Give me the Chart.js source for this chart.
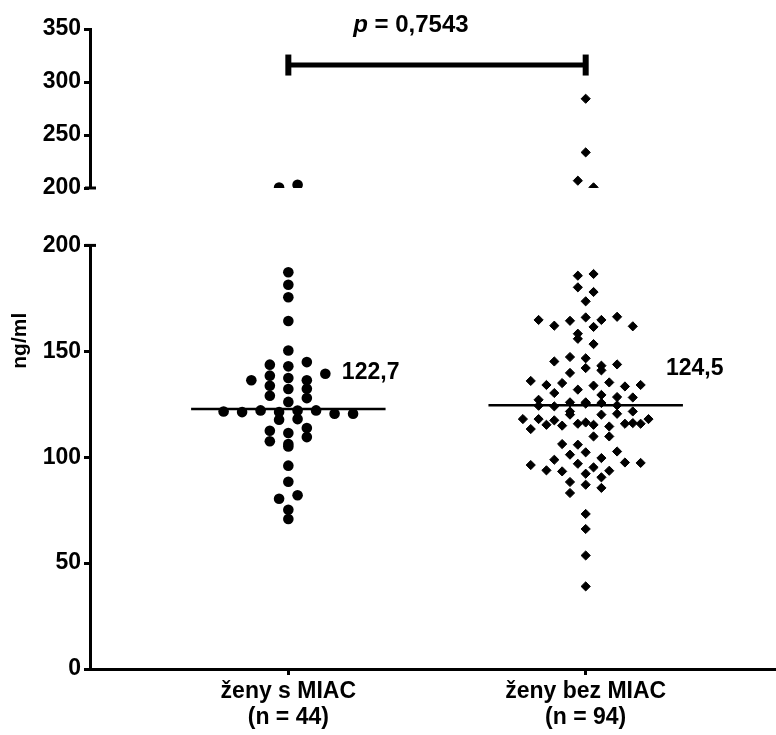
<!DOCTYPE html>
<html lang="cs">
<head>
    <meta charset="UTF-8">
    <title>ng/ml – ženy s MIAC a ženy bez MIAC</title>
    <script src="https://cdn.jsdelivr.net/npm/chart.js"></script>
    <style>
        html, body { margin: 0; padding: 0; background: #fff; overflow: hidden; }
        .chart-container { width: 776px; height: 735px; overflow: hidden; }
    </style>
</head>
<body>
    <div class="chart-container">
        <canvas id="dotPlot"></canvas>
    </div>

    <script>
        // Groups on the x axis
        const categories = ['ženy s MIAC', 'ženy bez MIAC'];
        const groupSizes = [44, 94];

        // Individual values in ng/ml (roughly left to right)
        const withMiac = [
            121.6,
            136.3, 121.3,
            143.7, 138.5, 133.7, 129.0, 122.1, 117.7, 112.5, 107.5,
            142.9, 137.4, 132.2, 126.1, 121.3, 111.4, 105.1, 80.4, 200.5,
            187.3, 181.4, 175.5, 164.3, 150.4, 96.0, 88.4, 75.2, 70.8,
            136.3, 122.0, 113.8, 106.2, 82.0, 203.0,
            144.9, 139.4, 127.9, 122.1, 118.0, 109.5,
            132.3, 120.5,
            120.5
        ];
        const withoutMiac = [
            118.0,
            127.1, 118.0, 113.3,
            136.0, 130.3, 125.9, 117.4,
            164.8, 134.1, 125.9, 120.1, 115.3, 96.3,
            162.1, 145.2, 139.8, 135.0, 129.4, 124.3, 116.4, 106.2, 98.8, 93.8,
            180.2, 164.4, 158.3, 147.3, 142.1, 131.9, 124.0, 114.9, 105.9, 101.2, 93.3, 88.3, 83.1,
            185.7, 206.9,
            284.2, 233.6, 173.6, 166.0, 161.5, 155.9, 146.7, 141.0, 133.8, 121.6, 115.8, 102.3, 96.9, 92.2, 87.0, 73.2, 66.1, 53.6, 39.0,
            186.5, 200.6,
            178.0, 164.8, 153.4, 143.2, 135.3, 125.3, 120.1, 115.3, 109.8, 95.2, 90.5, 85.5,
            166.3, 161.8, 143.8, 133.4, 128.4, 114.5, 109.8, 99.6, 93.6,
            134.1, 125.6, 120.5, 116.1, 102.7, 97.5,
            124.5, 115.8, 97.3,
            128.2, 121.6, 115.8,
            118.0
        ];
        const medians = [122.7, 124.5];
        const pValue = '0,7543';

        // Broken y axis: lower part 0-200, upper part 200-350
        const axisBreak = 200;
        const lowerRange = [0, 200];
        const upperRange = [200, 350];
        const tickStep = 50;
        const bracketLevel = 316;

        const FONT = "'Liberation Sans', Arial, sans-serif";
        Chart.defaults.font.family = FONT;
        Chart.defaults.color = '#000';

        // Simple dot-plot layout: values close together share a row,
        // each row is spread symmetrically around the group centre
        function swarm(values, centre, step, binLower, binUpper) {
            const order = values.map((v, i) => ({ v, i })).sort((a, b) => b.v - a.v);
            const rows = [];
            order.forEach(p => {
                const row = rows[rows.length - 1];
                const upper = p.v > axisBreak;
                const bin = upper ? binUpper : binLower;
                if (row && (row[0].v > axisBreak) === upper && row[0].v - p.v <= bin) {
                    row.push(p);
                } else {
                    rows.push([p]);
                }
            });
            const lower = [], top = [];
            rows.forEach(row => {
                row.sort((a, b) => a.i - b.i);
                row.forEach((p, k) => {
                    const pt = { x: centre + (k - (row.length - 1) / 2) * step, y: p.v };
                    (p.v > axisBreak ? top : lower).push(pt);
                });
            });
            return { lower, top };
        }

        const leftDots = swarm(withMiac, 1, 0.0622, 3.5, 9);
        const rightDots = swarm(withoutMiac, 2, 0.0528, 4.5, 9);

        const medianLine = (centre, value) => ({
            type: 'line',
            data: [{ x: centre - 0.327, y: value }, { x: centre + 0.327, y: value }],
            borderColor: '#000',
            borderWidth: 2.5,
            pointRadius: 0,
            showLine: true,
            yAxisID: 'y'
        });

        const dotStyle = {
            backgroundColor: '#000',
            borderColor: '#000',
            showLine: false
        };

        const comma = v => v.toFixed(1).replace('.', ',');

        const textPlugin = {
            id: 'figureText',
            afterDatasetsDraw(chart) {
                const { ctx, scales } = chart;
                const x = scales.x, y = scales.y, yTop = scales.yTop;
                ctx.save();
                ctx.fillStyle = '#000';
                ctx.strokeStyle = '#000';

                // caps at both ends of the axis break
                ctx.lineWidth = 3;
                [y.getPixelForValue(axisBreak), yTop.getPixelForValue(axisBreak)].forEach(py => {
                    ctx.beginPath();
                    ctx.moveTo(x.left - 5, py);
                    ctx.lineTo(x.left + 6, py);
                    ctx.stroke();
                });

                // medians
                ctx.font = 'bold 23px ' + FONT;
                ctx.textAlign = 'left';
                ctx.textBaseline = 'alphabetic';
                ctx.fillText(comma(medians[0]), x.getPixelForValue(1.18), y.getPixelForValue(medians[0]) - 30);
                ctx.fillText(comma(medians[1]), x.getPixelForValue(2.27), y.getPixelForValue(medians[1]) - 30);

                // p value above the bracket
                let px = x.getPixelForValue(1.218);
                const py = yTop.getPixelForValue(347.5);
                ctx.font = 'italic bold 24px ' + FONT;
                ctx.fillText('p', px, py);
                px += ctx.measureText('p').width;
                ctx.font = 'bold 24px ' + FONT;
                ctx.fillText(' = ' + pValue, px, py);

                // axis title
                ctx.translate(20, y.getPixelForValue(155));
                ctx.rotate(-Math.PI / 2);
                ctx.textAlign = 'center';
                ctx.textBaseline = 'middle';
                ctx.font = 'bold 21px ' + FONT;
                ctx.fillText('ng/ml', 0, 0);
                ctx.restore();
            }
        };

        const yScale = (range, weight) => ({
            type: 'linear',
            position: 'left',
            stack: 'ng',
            stackWeight: weight,
            min: range[0],
            max: range[1],
            afterBuildTicks: s => {
                const t = [];
                for (let v = range[0]; v <= range[1]; v += tickStep) t.push({ value: v });
                s.ticks = t;
            },
            afterFit: s => { s.width = 90; },
            grid: { drawOnChartArea: false, tickLength: 6, tickWidth: 3, tickColor: '#000' },
            border: { color: '#000', width: 3 },
            ticks: { color: '#000', padding: 3, autoSkip: false, font: { size: 23, weight: 'bold' } }
        });

        const ctx = document.getElementById('dotPlot').getContext('2d');
        new Chart(ctx, {
            type: 'scatter',
            data: {
                datasets: [
                    { ...dotStyle, data: leftDots.lower, pointStyle: 'circle', pointRadius: 5.3, borderWidth: 0, yAxisID: 'y' },
                    { ...dotStyle, data: leftDots.top, pointStyle: 'circle', pointRadius: 5.3, borderWidth: 0, yAxisID: 'yTop' },
                    { ...dotStyle, data: rightDots.lower, pointStyle: 'rectRot', pointRadius: 4.6, borderWidth: 1, yAxisID: 'y' },
                    { ...dotStyle, data: rightDots.top, pointStyle: 'rectRot', pointRadius: 4.6, borderWidth: 1, yAxisID: 'yTop' },
                    medianLine(1, medians[0]),
                    medianLine(2, medians[1]),
                    {
                        type: 'line',
                        data: [{ x: 1, y: bracketLevel }, { x: 2, y: bracketLevel }],
                        borderColor: '#000',
                        borderWidth: 5,
                        showLine: true,
                        pointStyle: 'line',
                        pointRotation: 90,
                        pointRadius: 10.5,
                        pointBorderWidth: 6,
                        pointBorderColor: '#000',
                        yAxisID: 'yTop'
                    }
                ]
            },
            options: {
                responsive: true,
                maintainAspectRatio: false,
                animation: false,
                events: [],
                layout: { autoPadding: false, padding: { top: 29, right: 0, bottom: 0, left: 0 } },
                plugins: {
                    legend: { display: false },
                    tooltip: { enabled: false }
                },
                scales: {
                    x: {
                        type: 'linear',
                        min: 0.333,
                        max: 2.64,
                        afterBuildTicks: s => { s.ticks = [{ value: 1 }, { value: 2 }]; },
                        afterFit: s => { s.height = 66; },
                        grid: { drawOnChartArea: false, tickLength: 6, tickWidth: 3, tickColor: '#000' },
                        border: { color: '#000', width: 3 },
                        ticks: {
                            color: '#000',
                            padding: 4,
                            autoSkip: false,
                            maxRotation: 0,
                            font: { size: 23, weight: 'bold', lineHeight: 1.13 },
                            callback: v => [categories[v - 1], '(n = ' + groupSizes[v - 1] + ')']
                        }
                    },
                    y: yScale(lowerRange, 423.6),
                    yGap: {
                        type: 'linear',
                        position: 'left',
                        stack: 'ng',
                        stackWeight: 57.4,
                        min: 0,
                        max: 1,
                        afterFit: s => { s.width = 90; },
                        grid: { display: false },
                        border: { display: false },
                        ticks: { display: false }
                    },
                    yTop: yScale(upperRange, 159)
                }
            },
            plugins: [textPlugin]
        });
    </script>
</body>
</html>
